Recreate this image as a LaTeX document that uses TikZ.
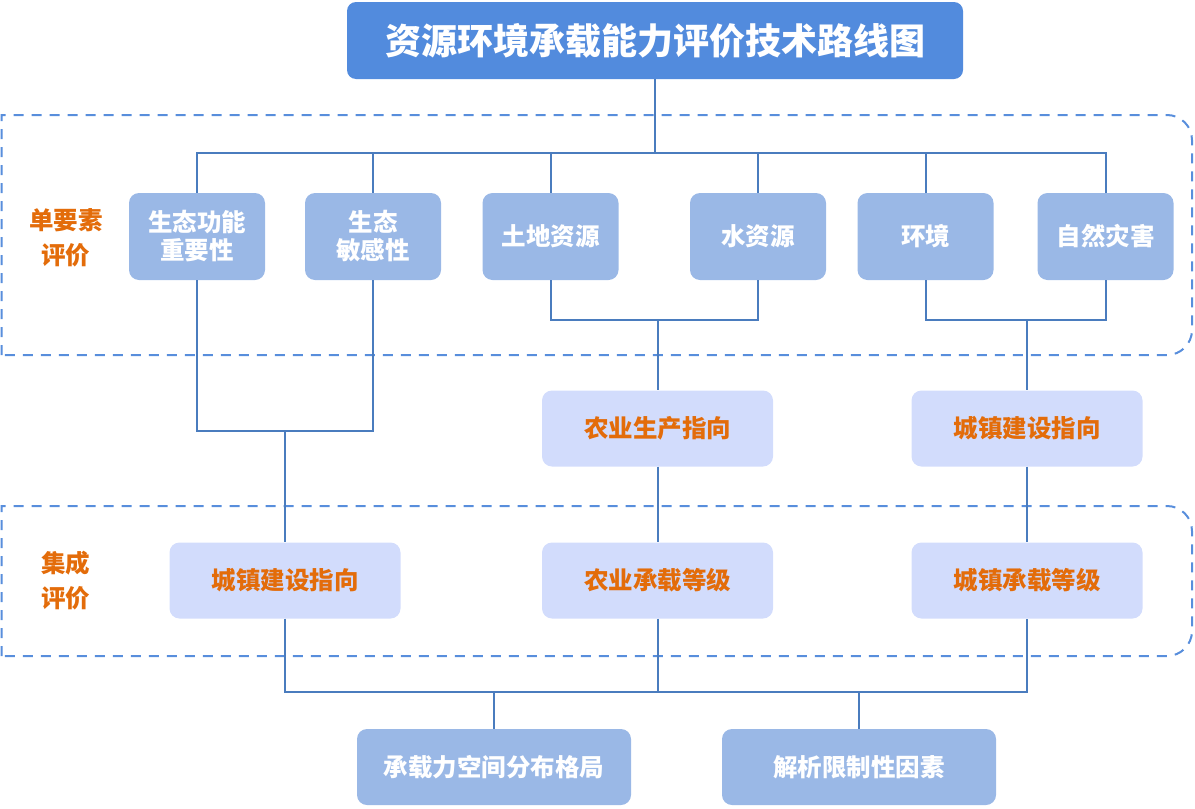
\documentclass[tikz,border=0pt]{standalone}
\usepackage{fontspec}
\setmainfont{Noto Sans CJK SC}
\usetikzlibrary{calc}

\definecolor{titleblue}{RGB}{82,139,221}
\definecolor{itemblue}{RGB}{154,184,230}
\definecolor{paleblue}{RGB}{210,220,252}
\definecolor{linkblue}{RGB}{74,124,190}
\definecolor{dashblue}{RGB}{88,142,220}
\definecolor{labelorange}{RGB}{227,108,10}

\tikzset{
    titlebox/.style={fill=titleblue, rounded corners=9pt, minimum width=616pt,
        minimum height=77pt, text=white, font=\fontsize{36}{40}\selectfont\bfseries},
    itembox/.style={fill=itemblue, rounded corners=10pt, minimum width=136pt,
        minimum height=87pt, text=white, align=center,
        font=\fontsize{24.5}{28}\selectfont\bfseries},
    guidebox/.style={fill=paleblue, rounded corners=10pt, minimum width=231pt,
        minimum height=76pt, text=labelorange,
        font=\fontsize{24.5}{28}\selectfont\bfseries},
    resultbox/.style={fill=itemblue, rounded corners=10pt, minimum width=274pt,
        minimum height=76pt, text=white,
        font=\fontsize{24.5}{28}\selectfont\bfseries},
    sidelabel/.style={text=labelorange, align=center,
        font=\fontsize{24.5}{35}\selectfont\bfseries},
    link/.style={draw=linkblue, line width=2pt},
    groupline/.style={draw=dashblue, line width=2pt, dash pattern=on 10pt off 8pt},
}

\begin{document}
\begin{tikzpicture}[x=1pt, y=-1pt]
        \useasboundingbox (0,0) rectangle (1195,809);

        % dashed groups
        \draw[groupline]
            (1.5,355) -- (1.5,115) [rounded corners=25pt] -- (1192,115)
            -- (1192,355) -- (1.5,355);
        \draw[groupline]
            (1.5,656) -- (1.5,506) [rounded corners=25pt] -- (1192,506)
            -- (1192,656) -- (1.5,656);

        \node[sidelabel] (single) at (66,238) {单要素\\评价};
        \node[sidelabel] (integrated) at (66,581) {集成\\评价};

        % title
        \node[titlebox] (title) at (655,40.5) {资源环境承载能力评价技术路线图};

        % single factor row
        \node[itembox] (ecofunc) at (197,236.5) {生态功能\\重要性};
        \node[itembox] (ecosens) at (373,236.5) {生态\\敏感性};
        \node[itembox] (land) at (550.5,236.5) {土地资源};
        \node[itembox] (water) at (758,236.5) {水资源};
        \node[itembox] (env) at (925.5,236.5) {环境};
        \node[itembox] (hazard) at (1105.5,236.5) {自然灾害};

        % orientation row
        \node[guidebox] (agriguide) at (657.5,428.5) {农业生产指向};
        \node[guidebox] (townguide) at (1027,428.5) {城镇建设指向};

        % integrated row
        \node[guidebox] (ecoguide) at (285,580.5) {城镇建设指向};
        \node[guidebox] (agrilevel) at (657.5,580.5) {农业承载等级};
        \node[guidebox] (townlevel) at (1027,580.5) {城镇承载等级};

        % results
        \node[resultbox] (pattern) at (494,767) {承载力空间分布格局};
        \node[resultbox] (factor) at (859,767) {解析限制性因素};

        \coordinate (topbus) at (655,153);
        \coordinate (ecobus) at (285,431);
        \coordinate (agribus) at (657.5,320);
        \coordinate (townbus) at (1027,320);
        \coordinate (endbus) at (657.5,692);

        \draw[link] (title) -- (topbus);
        \draw[link] (ecofunc.north) |- (topbus) -| (hazard.north);
        \draw[link]
            (ecosens.north) -- (ecosens.north |- topbus)
            (land.north) -- (land.north |- topbus)
            (water.north) -- (water.north |- topbus)
            (env.north) -- (env.north |- topbus);

        \draw[link] (ecofunc.south) |- (ecobus) -| (ecosens.south);
        \draw[link] (ecobus) -- (ecoguide.north);
        \draw[link] (land.south) |- (agribus) -| (water.south);
        \draw[link] (agribus) -- (agriguide.north);
        \draw[link] (env.south) |- (townbus) -| (hazard.south);
        \draw[link] (townbus) -- (townguide.north);

        \draw[link] (agriguide) -- (agrilevel);
        \draw[link] (townguide) -- (townlevel);

        \draw[link] (ecoguide.south) |- (endbus) -| (townlevel.south);
        \draw[link] (agrilevel.south) -- (endbus);
        \draw[link]
            (pattern.north) -- (pattern.north |- endbus)
            (factor.north) -- (factor.north |- endbus);

    \end{tikzpicture}
\end{document}
